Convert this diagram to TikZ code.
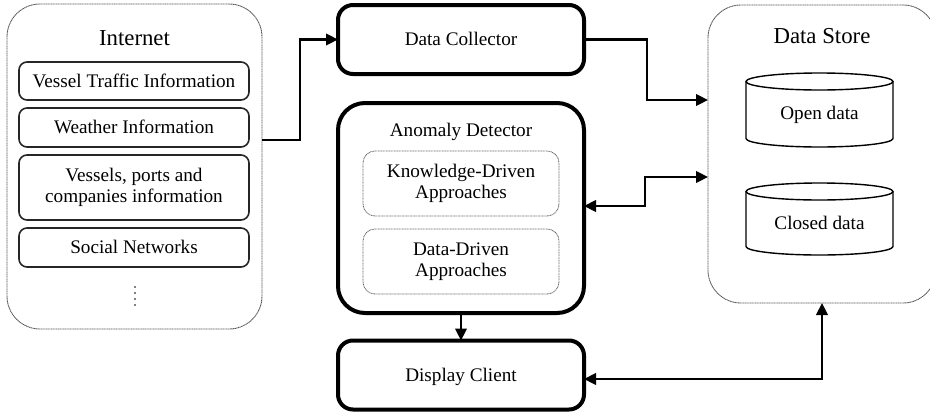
\documentclass[tikz,border=0pt]{standalone}
\usepackage{fontspec}
\setmainfont{Liberation Serif}
\usetikzlibrary{arrows.meta}
\begin{document}
\begin{tikzpicture}[x=1pt,y=1pt,
  every node/.style={inner sep=0pt, outer sep=0pt, font=\fontsize{19.2}{21.5}\selectfont,
    text height=12.7pt, text depth=0pt, align=center},
  twolines/.style={text height=, text depth=, execute at begin node={\rule{0pt}{18pt}}},
  titletext/.style={font=\fontsize{22.8}{26}\selectfont, text height=15.1pt},
  groupbox/.style={draw=black!65, line width=0.9pt, dash pattern=on 1.2pt off 0.5pt,
    rounded corners=33pt},
  sourcebox/.style={draw=black!85, line width=1.6pt, rounded corners=8pt,
    minimum width=230pt},
  modulebox/.style={draw=black, line width=4pt, rounded corners=15pt,
    minimum width=246pt, minimum height=69pt},
  approachbox/.style={draw=black!60, line width=0.8pt, dash pattern=on 1pt off 0.6pt,
    rounded corners=12pt, minimum width=196pt, minimum height=65pt},
  arr/.style={line width=2.4pt, -{Triangle[length=12pt,width=11.5pt]}},
  arrboth/.style={line width=2.4pt, {Triangle[length=12pt,width=11.5pt]}-{Triangle[length=12pt,width=11.5pt]}},
  dbline/.style={draw=black, line width=1.4pt}
]
\useasboundingbox (0,0) rectangle (930,-413);

% Internet sources
\node[groupbox, minimum width=255pt, minimum height=325pt] (inet) at (134.5,-166.5) {};
\node[titletext] (inettitle) at (134.5,-38.3) {Internet};
\node[sourcebox, minimum height=38pt] (vti) at (134,-81) {Vessel Traffic Information};
\node[sourcebox, minimum height=39pt] (wi) at (134,-127.5) {Weather Information};
\node[sourcebox, twolines, minimum height=65pt] (vpc) at (134,-187.5) {Vessels, ports and\\companies information};
\node[sourcebox, minimum height=39pt] (sn) at (134,-247.5) {Social Networks};
\foreach \yy in {287,293,299,305} \fill (135,-\yy) circle (0.95pt);

% Processing modules
\node[modulebox] (dc) at (461,-39.5) {Data Collector};
\node[modulebox, minimum height=210pt, rounded corners=27pt] (ad) at (461,-208) {};
\node (adtitle) at (461,-130) {Anomaly Detector};
\node[approachbox, twolines] (kd) at (461,-183.5) {Knowledge-Driven\\Approaches};
\node[approachbox, twolines] (dd) at (461,-261.5) {Data-Driven\\Approaches};
\node[modulebox] (dcl) at (461,-375) {Display Client};

% Data store with two databases
\node[groupbox, minimum width=228pt, minimum height=298pt] (ds) at (822,-154) {};
\node[titletext] (dstitle) at (822,-35.7) {Data Store};

\draw[dbline] (819.5,-81.5) ellipse [x radius=73.5pt, y radius=8.5pt];
\draw[dbline] (746,-81.5) -- (746,-138.5) arc[start angle=180, end angle=360, x radius=73.5pt, y radius=8.5pt] -- (893,-81.5);
\node (open) at (819.5,-113) {Open data};

\draw[dbline] (819.5,-191.5) ellipse [x radius=73.5pt, y radius=8.5pt];
\draw[dbline] (746,-191.5) -- (746,-246.5) arc[start angle=180, end angle=360, x radius=73.5pt, y radius=8.5pt] -- (893,-191.5);
\node (closed) at (819.5,-223) {Closed data};

% Connectors
\draw[arr] ([yshift=26.5pt]inet.east) -- ++(38pt,0) |- (dc.west);
\draw[arr] (dc.east) -- ++(63pt,0) |- ([yshift=54pt]ds.west);
\draw[arrboth] ([yshift=-23pt]ds.west) -- ++(-63pt,0) |- ([yshift=2pt]ad.east);
\draw[arr] (ad.south) -- (dcl.north);
\draw[arrboth] ([yshift=-4pt]dcl.east) -| (ds.south);
\end{tikzpicture}
\end{document}
